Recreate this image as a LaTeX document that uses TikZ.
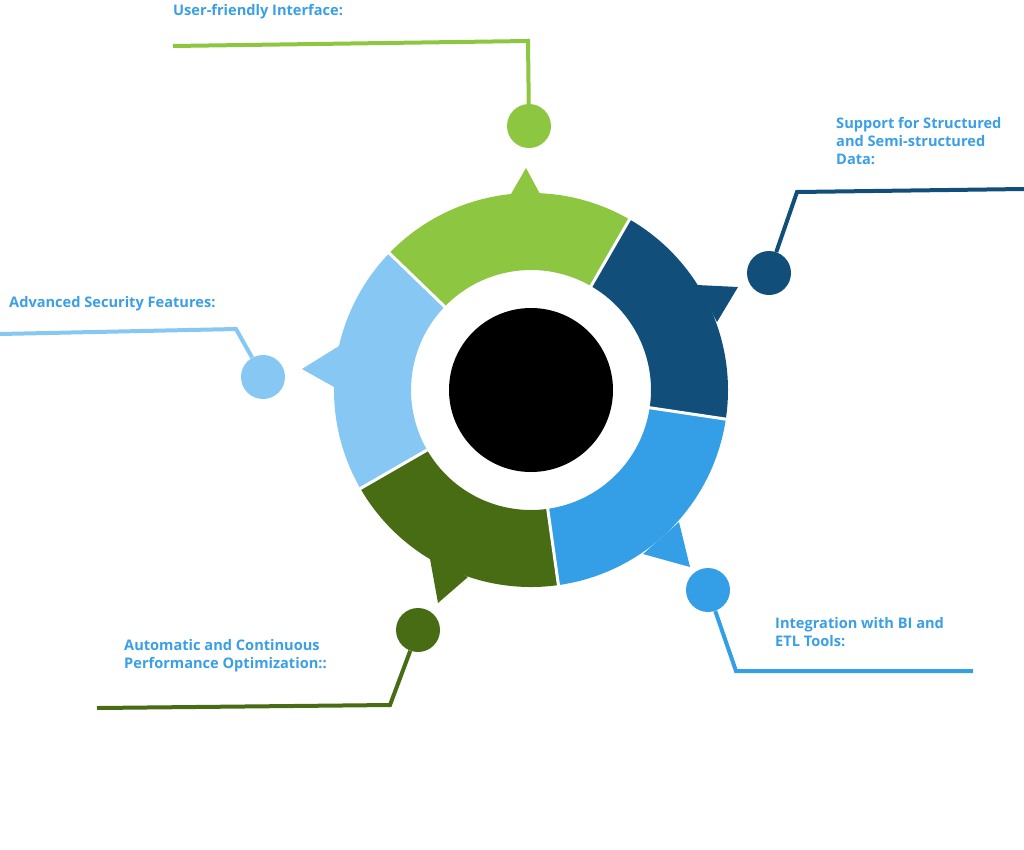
\documentclass[tikz,border=0pt]{standalone}
\usepackage{fontspec}
\setmainfont{Open Sans}
\definecolor{lgreen}{HTML}{8DC641}
\definecolor{dblue}{HTML}{114E7A}
\definecolor{mblue}{HTML}{349FE6}
\definecolor{dgreen}{HTML}{476C13}
\definecolor{lblue}{HTML}{86C7F4}
\definecolor{txtblue}{HTML}{3A9FE5}
\tikzset{
  dot/.style={circle, fill=#1, minimum size=44pt, inner sep=0pt},
  lead/.style={line width=4pt, #1},
  lbl/.style={anchor=base west, inner sep=0pt, text=txtblue, align=left,
    font=\bfseries\fontsize{14.6}{18}\selectfont},
}
\begin{document}
\begin{tikzpicture}[x=1pt,y=-1pt]
\useasboundingbox (0,0) rectangle (1024,849);
\coordinate (c) at (531,390);
% ring segments
\foreach \a/\b/\col in {-60/-136/lgreen, 8.5/-60/dblue, 82/8.5/mblue, 150/82/dgreen, -136/-210/lblue} {
  \fill[\col] ([shift={(c)}]\a:197) arc[start angle=\a, end angle=\b, radius=197]
    -- ([shift={(c)}]\b:120) arc[start angle=\b, end angle=\a, radius=120] -- cycle;
}
% pointers
\fill[lgreen] (511,194) -- (526,168) -- (540,194) -- cycle;
\fill[dblue] (697,285) -- (738,287) -- (717,322) -- cycle;
\fill[mblue] (679,522) -- (690,567) -- (643,554) -- cycle;
\fill[dgreen] (430,559) -- (438,603) -- (468,577) -- cycle;
\fill[lblue] (339,346) -- (302,369) -- (334,387) -- cycle;
\foreach \a in {-60,8.5,82,150,-136} {
  \draw[white, line width=3pt] ([shift={(c)}]\a:119) -- ([shift={(c)}]\a:199);
}
\node[circle, fill=black, minimum size=164pt, inner sep=0pt] (hub) at (c) {};

% dots and leaders
\node[dot=lgreen] (ui) at (529,126) {};
\node[dot=dblue] (sd) at (769,273) {};
\node[dot=mblue] (bi) at (708,590) {};
\node[dot=dgreen] (perf) at (418,630) {};
\node[dot=lblue] (sec) at (263,377) {};
\coordinate (uiA) at (528,41);   \coordinate (uiB) at (173,46);
\coordinate (sdA) at (797,192);  \coordinate (sdB) at (1024,189);
\coordinate (biA) at (736,671);  \coordinate (biB) at (973,671);
\coordinate (perfA) at (390,705); \coordinate (perfB) at (97,708);
\coordinate (secA) at (236,329); \coordinate (secB) at (0,334);
\draw[lead=lgreen] (ui) -- (uiA) -- (uiB);
\draw[lead=dblue] (sd) -- (sdA) -- (sdB);
\draw[lead=mblue] (bi) -- (biA) -- (biB);
\draw[lead=dgreen] (perf) -- (perfA) -- (perfB);
\draw[lead=lblue] (sec) -- (secA) -- (secB);

% labels (base = last line)
\node[lbl] (uiT) at (173,15) {User-friendly Interface:};
\node[lbl] (sdT) at (836,164) {Support for Structured\\and Semi-structured\\Data:};
\node[lbl] (biT) at (775,646) {Integration with BI and\\ETL Tools:};
\node[lbl] (perfT) at (124,668) {Automatic and Continuous\\Performance Optimization::};
\node[lbl] (secT) at (9,307) {Advanced Security Features:};
\end{tikzpicture}
\end{document}
